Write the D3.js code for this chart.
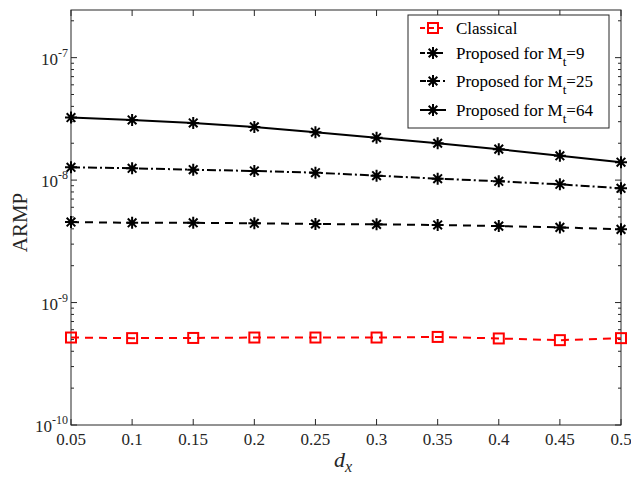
<!DOCTYPE html>
<html>
<head>
<meta charset="utf-8">
<script src="https://cdn.jsdelivr.net/npm/d3@7"></script>
<style>
  body { margin: 0; background: #fff; }
  svg { display: block; font-family: "Liberation Serif", "Times New Roman", serif; }
</style>
</head>
<body>
<svg id="chart"></svg>
<script>
// d_x values
const dx = [0.05, 0.1, 0.15, 0.2, 0.25, 0.3, 0.35, 0.4, 0.45, 0.5]
const classical = [5.18e-10, 5.12e-10, 5.14e-10, 5.18e-10, 5.18e-10, 5.18e-10, 5.24e-10, 5.09e-10, 4.93e-10, 5.12e-10]
const mt9 = [4.54e-9, 4.48e-9, 4.48e-9, 4.44e-9, 4.38e-9, 4.35e-9, 4.30e-9, 4.21e-9, 4.11e-9, 3.96e-9]
const mt25 = [1.273e-8, 1.249e-8, 1.216e-8, 1.187e-8, 1.150e-8, 1.087e-8, 1.027e-8, 9.78e-9, 9.24e-9, 8.57e-9]
const mt64 = [3.24e-8, 3.10e-8, 2.93e-8, 2.72e-8, 2.46e-8, 2.22e-8, 2.00e-8, 1.79e-8, 1.58e-8, 1.40e-8]
const xTicks = [0.05, 0.1, 0.15, 0.2, 0.25, 0.3, 0.35, 0.4, 0.45, 0.5]
const yExps = [-10, -9, -8, -7]

const series = [
  { name: 'Classical', sub: null, values: classical, color: '#ff0000', dash: '8,6', legDash: '5,4', marker: 'square' },
  { name: 'Proposed for M', sub: '=9', values: mt9, color: '#000', dash: '8,6', legDash: '5,4', marker: 'star' },
  { name: 'Proposed for M', sub: '=25', values: mt25, color: '#000', dash: '9,3,2,3', legDash: '6,3,2,3', marker: 'star' },
  { name: 'Proposed for M', sub: '=64', values: mt64, color: '#000', dash: null, legDash: null, marker: 'star' }
]

const width = 631, height = 477
const margin = { top: 10, right: 10, bottom: 52, left: 71 }
const w = width - margin.left - margin.right
const h = height - margin.top - margin.bottom
const axisColor = '#262626'

const svg = d3.select('#chart').attr('width', width).attr('height', height)
const g = svg.append('g').attr('transform', `translate(${margin.left},${margin.top})`)

const x = d3.scaleLinear().domain([0.05, 0.5]).range([0, w])
const y = d3.scaleLog().domain([1e-10, 2.45e-7]).range([h, 0])

// minor log ticks
const minor = []
for (let e = -10; e <= -7; e++) {
  for (let m = 2; m <= 9; m++) {
    const v = m * Math.pow(10, e)
    if (v <= y.domain()[1]) minor.push(v)
  }
}

// box
g.append('rect').attr('width', w).attr('height', h)
  .attr('fill', 'none').attr('stroke', axisColor).attr('stroke-width', 1)

const ticks = g.append('g').attr('stroke', axisColor).attr('stroke-width', 1)
xTicks.forEach(t => {
  const px = x(t)
  ticks.append('line').attr('x1', px).attr('x2', px).attr('y1', h).attr('y2', h - 6)
  ticks.append('line').attr('x1', px).attr('x2', px).attr('y1', 0).attr('y2', 6)
})
yExps.forEach(e => {
  const py = y(Math.pow(10, e))
  ticks.append('line').attr('x1', 0).attr('x2', 6).attr('y1', py).attr('y2', py)
  ticks.append('line').attr('x1', w).attr('x2', w - 6).attr('y1', py).attr('y2', py)
})
minor.forEach(v => {
  const py = y(v)
  ticks.append('line').attr('x1', 0).attr('x2', 3).attr('y1', py).attr('y2', py)
  ticks.append('line').attr('x1', w).attr('x2', w - 3).attr('y1', py).attr('y2', py)
})

// x tick labels
g.append('g').selectAll('text').data(xTicks).enter().append('text')
  .attr('x', d => x(d)).attr('y', h + 20)
  .attr('text-anchor', 'middle').attr('font-size', 17).attr('fill', axisColor)
  .text(d => d3.format('')(d))

// y tick labels
const yl = g.append('g').selectAll('text').data(yExps).enter().append('text')
  .attr('x', -3).attr('y', d => y(Math.pow(10, d)) + 7)
  .attr('text-anchor', 'end').attr('font-size', 17).attr('fill', axisColor)
yl.append('tspan').text('10')
yl.append('tspan').attr('dy', -8).attr('font-size', 12).text(d => '-' + Math.abs(d))

// axis titles
svg.append('text')
  .attr('transform', `translate(27,${margin.top + h / 2 + 5}) rotate(-90)`)
  .attr('text-anchor', 'middle').attr('font-size', 21).attr('fill', axisColor)
  .text('ARMP')
const xt = svg.append('text')
  .attr('x', margin.left + w / 2 - 3).attr('y', 467)
  .attr('text-anchor', 'middle').attr('font-size', 22).attr('fill', axisColor)
xt.append('tspan').attr('font-style', 'italic').text('d')
xt.append('tspan').attr('font-style', 'italic').attr('font-size', 16).attr('dy', 5).text('x')

// markers
function drawMarker(sel, type, color) {
  if (type === 'square') {
    sel.append('rect').attr('x', -5).attr('y', -5).attr('width', 10).attr('height', 10)
      .attr('fill', 'none').attr('stroke', color).attr('stroke-width', 2)
  } else {
    const r = 6, d = r * 0.72
    sel.append('path')
      .attr('d', `M${-r},0H${r}M0,${-r}V${r}M${-d},${-d}L${d},${d}M${-d},${d}L${d},${-d}`)
      .attr('stroke', color).attr('stroke-width', 2).attr('fill', 'none')
  }
}

const line = d3.line().x(d => x(d[0])).y(d => y(d[1]))

series.forEach(s => {
  const pts = dx.map((v, i) => [v, s.values[i]])
  g.append('path').datum(pts)
    .attr('d', line)
    .attr('fill', 'none').attr('stroke', s.color).attr('stroke-width', 2)
    .attr('stroke-dasharray', s.dash)
  g.append('g').selectAll('g').data(pts).enter().append('g')
    .attr('transform', d => `translate(${x(d[0])},${y(d[1])})`)
    .each(function () { drawMarker(d3.select(this), s.marker, s.color) })
})

// legend
const lg = svg.append('g')
lg.append('rect').attr('x', 408).attr('y', 15).attr('width', 201).attr('height', 113)
  .attr('fill', '#fff').attr('stroke', axisColor).attr('stroke-width', 1)
const rowY = [28, 53, 81, 110]
series.forEach((s, i) => {
  const ry = rowY[i]
  lg.append('line').attr('x1', 420).attr('x2', 446).attr('y1', ry).attr('y2', ry)
    .attr('stroke', s.color).attr('stroke-width', 2).attr('stroke-dasharray', s.legDash)
  const mk = lg.append('g').attr('transform', `translate(433,${ry})`)
  drawMarker(mk, s.marker, s.color)
  const t = lg.append('text').attr('x', 456).attr('y', ry + 6)
    .attr('font-size', 17).attr('fill', '#000')
  t.append('tspan').text(s.name)
  if (s.sub) {
    t.append('tspan').attr('dy', 7).attr('font-size', 13).text('t')
    t.append('tspan').attr('dy', -7).text(s.sub)
  }
})
</script>
</body>
</html>
